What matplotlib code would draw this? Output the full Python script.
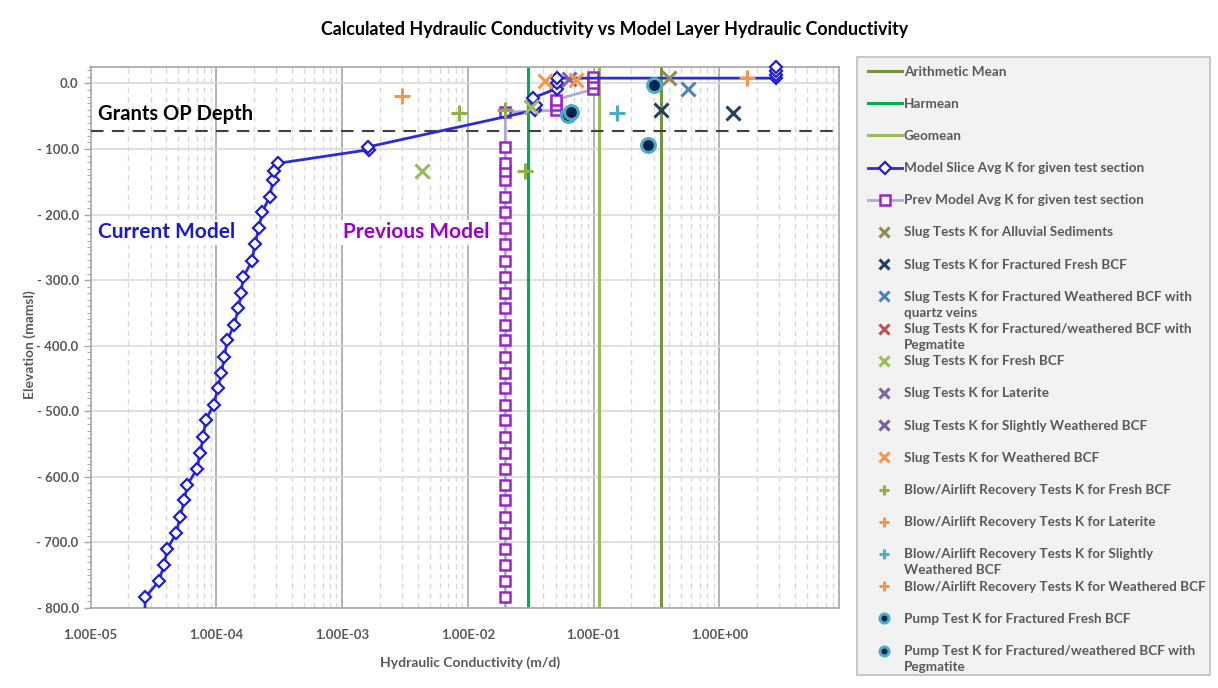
import matplotlib
matplotlib.use("Agg")
import matplotlib.pyplot as plt
from matplotlib.lines import Line2D
from matplotlib.patches import Rectangle
from matplotlib.transforms import Affine2D
from matplotlib.ticker import FixedLocator, FuncFormatter, LogLocator, MultipleLocator

plt.rcParams['font.family'] = ['Lato', 'DejaVu Sans']

W, H = 1218, 688

# ---- data -------------------------------------------------------------
# Current model: layer-averaged K (m/d) against elevation (mamsl)
cur_elev = [-808, -783.5, -759, -734, -710, -685.5, -661, -636, -612, -588,
            -563, -539, -514, -490, -465, -441.5, -417, -392, -368, -343,
            -319, -295, -271, -245, -221, -196, -172.5, -148, -133, -122,
            -101, -97, -41, -33, -22, -8, 0, 8, 8, 13.5, 19, 24.5]
cur_k = [2.7e-5, 2.73e-5, 3.5e-5, 3.85e-5, 4.08e-5, 4.82e-5, 5.15e-5, 5.57e-5, 5.89e-5, 7.03e-5,
         7.46e-5, 7.88e-5, 8.23e-5, 9.53e-5, 1.03e-4, 1.10e-4, 1.16e-4, 1.22e-4, 1.39e-4, 1.50e-4,
         1.58e-4, 1.64e-4, 1.92e-4, 2.03e-4, 2.18e-4, 2.32e-4, 2.67e-4, 2.82e-4, 2.90e-4, 3.07e-4,
         1.65e-3, 1.60e-3, 0.034, 0.035, 0.033, 0.051, 0.051, 0.051, 2.8, 2.8, 2.8, 2.8]

# Previous model: layer-averaged K (m/d) against elevation (mamsl)
prev_elev = [-808, -783.5, -759, -734, -710, -685.5, -661, -636, -612, -588,
             -563, -539, -514, -490, -465, -441.5, -417, -392, -368, -343,
             -319, -295, -271, -245, -221, -196, -172.5, -148, -133, -122,
             -97, -44, -41, -33, -25, -9, 0, 10]
prev_k = [0.0199] * 31 + [0.0199, 0.050, 0.050, 0.050, 0.099, 0.099, 0.099]

# Statistics of the field tests (m/d)
arith_mean = 0.343
harmean = 0.030
geomean = 0.110

# Field tests: K (m/d) and test elevation (mamsl)
slug_alluvial_k, slug_alluvial_z = [0.40], [8]
slug_frac_fresh_k, slug_frac_fresh_z = [0.344, 1.28], [-41, -44.7]
slug_frac_qv_k, slug_frac_qv_z = [0.56], [-9]
slug_frac_peg_k, slug_frac_peg_z = [], []
slug_fresh_k, slug_fresh_z = [0.032, 4.29e-3], [-36, -133.6]
slug_laterite_k, slug_laterite_z = [0.064], [7]
slug_slight_k, slug_slight_z = [], []
slug_weath_k, slug_weath_z = [0.0408, 0.073], [3.5, 4.6]
blow_fresh_k, blow_fresh_z = [8.53e-3, 0.0199, 0.0283], [-44.7, -41, -133.6]
blow_laterite_k, blow_laterite_z = [2.98e-3], [-19.8]
blow_slight_k, blow_slight_z = [0.153], [-45]
blow_weath_k, blow_weath_z = [1.65], [8]
pump_fresh_k, pump_fresh_z = [0.063, 0.305, 0.27], [-48, -2, -93.5]
pump_peg_k, pump_peg_z = [0.066], [-44]

grants_op_depth = -72

x_ticks = [1e-5, 1e-4, 1e-3, 1e-2, 1e-1, 1e0]
y_ticks = [0, -100, -200, -300, -400, -500, -600, -700, -800]

# ---- styles -----------------------------------------------------------
TXT = '#595959'
C_ARITH, C_HAR, C_GEO = '#77933c', '#00b050', '#9bbb59'

def xs(color):
    return dict(marker='x', color=color, markersize=10, markeredgewidth=2.2, linestyle='none')

def ps(color):
    return dict(marker='+', color=color, markersize=11, markeredgewidth=2.2, linestyle='none')

pump_style = dict(marker='o', markerfacecolor='#0a1f4d', markeredgecolor='#4bacc6',
                  markeredgewidth=2.2, markersize=10, linestyle='none')

series = [
    ('Slug Tests K for Alluvial Sediments', slug_alluvial_k, slug_alluvial_z, xs('#948a54')),
    ('Slug Tests K for Fractured Fresh BCF', slug_frac_fresh_k, slug_frac_fresh_z, xs('#254061')),
    ('Slug Tests K for Fractured Weathered BCF with\nquartz veins', slug_frac_qv_k, slug_frac_qv_z, xs('#4f81bd')),
    ('Slug Tests K for Fractured/weathered BCF with\nPegmatite', slug_frac_peg_k, slug_frac_peg_z, xs('#c0504d')),
    ('Slug Tests K for Fresh BCF', slug_fresh_k, slug_fresh_z, xs('#9bbb59')),
    ('Slug Tests K for Laterite', slug_laterite_k, slug_laterite_z, xs('#8064a2')),
    ('Slug Tests K for Slightly Weathered BCF', slug_slight_k, slug_slight_z, xs('#7a5ea3')),
    ('Slug Tests K for Weathered BCF', slug_weath_k, slug_weath_z, xs('#f79646')),
    ('Blow/Airlift Recovery Tests K for Fresh BCF', blow_fresh_k, blow_fresh_z, ps('#8db04a')),
    ('Blow/Airlift Recovery Tests K for Laterite', blow_laterite_k, blow_laterite_z, ps('#f79646')),
    ('Blow/Airlift Recovery Tests K for Slightly\nWeathered BCF', blow_slight_k, blow_slight_z, ps('#4bacc6')),
    ('Blow/Airlift Recovery Tests K for Weathered BCF', blow_weath_k, blow_weath_z, ps('#f79646')),
    ('Pump Test K for Fractured Fresh BCF', pump_fresh_k, pump_fresh_z, pump_style),
    ('Pump Test K for Fractured/weathered BCF with\nPegmatite', pump_peg_k, pump_peg_z, pump_style),
]

cur_style = dict(color='#2b2bd9', linewidth=2, marker='D', markersize=6,
                 markerfacecolor='white', markeredgecolor='#1f1fd0', markeredgewidth=1.6)
prev_style = dict(color='#b4a7d6', linewidth=2, marker='s', markersize=7.2,
                  markerfacecolor='white', markeredgecolor='#a020d0', markeredgewidth=1.8)

# ---- figure -----------------------------------------------------------
fig = plt.figure(figsize=(W / 100, H / 100), dpi=100)
fig.patch.set_facecolor('white')

px = Affine2D().scale(1 / W, -1 / H).translate(0, 1) + fig.transFigure

L, R, T, B = 90.5, 839, 67, 608
ax = fig.add_axes([L / W, 1 - B / H, (R - L) / W, (B - T) / H])
ax.set_xscale('log')
ax.set_xlim(1e-5, 10 ** (0.952))
ax.set_ylim(-800, 25)

ax.xaxis.set_major_locator(FixedLocator(x_ticks))
ax.xaxis.set_minor_locator(LogLocator(base=10, subs=range(2, 10), numticks=20))
ax.xaxis.set_major_formatter(FuncFormatter(lambda v, p: f"{v:.2E}"))
ax.xaxis.set_minor_formatter(FuncFormatter(lambda v, p: ''))
ax.yaxis.set_major_locator(FixedLocator(y_ticks))
ax.yaxis.set_minor_locator(MultipleLocator(10))
ax.yaxis.set_major_formatter(FuncFormatter(lambda v, p: f"- {abs(v):.1f}" if v < 0 else f"{abs(v):.1f}"))

ax.grid(True, which='major', axis='x', color='#a6a6a6', linewidth=1.2)
ax.grid(True, which='minor', axis='x', color='#d9d9d9', linewidth=1, linestyle=(0, (4, 3)))
ax.grid(True, which='major', axis='y', color='#d9d9d9', linewidth=1.2)
ax.set_axisbelow(True)

for s in ax.spines.values():
    s.set_color('#a6a6a6')
    s.set_linewidth(1.2)
ax.tick_params(axis='both', which='both', colors='#a6a6a6', labelcolor=TXT)
ax.tick_params(axis='x', which='both', length=0, pad=15)
ax.tick_params(axis='y', which='major', length=5, width=1)
ax.tick_params(axis='y', which='minor', length=3, width=0.8)
for lab in ax.get_xticklabels() + ax.get_yticklabels():
    lab.set_fontweight('bold')
    lab.set_fontsize(9.5)

# mean lines
ax.axvline(harmean, color=C_HAR, linewidth=2.2, zorder=2)
ax.axvline(geomean, color=C_GEO, linewidth=2.2, zorder=2)
ax.axvline(arith_mean, color=C_ARITH, linewidth=2.2, zorder=2)

# open-pit depth
ax.axhline(grants_op_depth, color='#404040', linewidth=1.5, linestyle=(0, (6, 4)), zorder=3)

# model profiles: lines clipped to the plot, markers kept where they lie in range
ax.plot(prev_k, prev_elev, color=prev_style['color'], linewidth=2, zorder=4)
pk = [k for k, z in zip(prev_k, prev_elev) if z >= -800]
pz = [z for z in prev_elev if z >= -800]
ax.plot(pk, pz, linestyle='none', marker='s', markersize=prev_style['markersize'],
        markerfacecolor='white', markeredgecolor='#a020d0', markeredgewidth=1.8,
        zorder=5, clip_on=False)

ax.plot(cur_k, cur_elev, color=cur_style['color'], linewidth=2, zorder=6)
ck = [k for k, z in zip(cur_k, cur_elev) if z >= -800]
cz = [z for z in cur_elev if z >= -800]
ax.plot(ck, cz, linestyle='none', marker='D', markersize=cur_style['markersize'],
        markerfacecolor='white', markeredgecolor='#1f1fd0', markeredgewidth=1.6,
        zorder=7, clip_on=False)

# field tests
for label, k, z, st in series:
    if k:
        ax.plot(k, z, zorder=8, **st)

# annotations
ax.text(1.15e-5, -46, 'Grants OP Depth', fontsize=14.5, fontweight='bold', color='black',
        va='center', ha='left', zorder=9)
ax.text(1.15e-5, -227, 'Current Model', fontsize=15, fontweight='bold', color='#1a1acc',
        va='center', ha='left', zorder=9,
        bbox=dict(facecolor='white', edgecolor='none', pad=2))
ax.text(1.02e-3, -227, 'Previous Model', fontsize=15, fontweight='bold', color='#9900cc',
        va='center', ha='left', zorder=9,
        bbox=dict(facecolor='white', edgecolor='none', pad=2))

# titles
fig.text(615 / W, 1 - 29 / H, 'Calculated Hydraulic Conductivity vs Model Layer Hydraulic Conductivity',
         ha='center', va='center', fontsize=12.9, fontweight='bold', color='black')
fig.text(470 / W, 1 - 663 / H, 'Hydraulic Conductivity (m/d)', ha='center', va='center',
         fontsize=10, fontweight='bold', color=TXT)
fig.text(30 / W, 1 - 345 / H, 'Elevation (mamsl)', ha='center', va='center', rotation=90,
         fontsize=10, fontweight='bold', color=TXT)

# ---- legend panel -----------------------------------------------------
fig.add_artist(Rectangle((857, 57), 353, 618, transform=px, facecolor='#f2f2f2',
                         edgecolor='#bfbfbf', linewidth=1.2, zorder=1))

entries = [
    ('Arithmetic Mean', dict(color=C_ARITH, linewidth=2.2), 'line'),
    ('Harmean', dict(color=C_HAR, linewidth=2.2), 'line'),
    ('Geomean', dict(color=C_GEO, linewidth=2.2), 'line'),
    ('Model Slice Avg K for given test section', cur_style, 'line'),
    ('Prev Model Avg K for given test section', prev_style, 'line'),
] + [(lab, st, 'point') for lab, _, _, st in series]

y0, dy = 71, 32.2
for i, (lab, st, kind) in enumerate(entries):
    y = y0 + i * dy
    if kind == 'line':
        fig.add_artist(Line2D([868, 902], [y, y], transform=px, color=st['color'],
                              linewidth=st['linewidth'], zorder=2))
        if 'marker' in st:
            m = dict(st)
            m.pop('color'); m.pop('linewidth')
            fig.add_artist(Line2D([885], [y], transform=px, linestyle='none', zorder=3, **m))
    else:
        m = dict(st)
        m['markersize'] = m['markersize'] * 0.65
        fig.add_artist(Line2D([884], [y], transform=px, zorder=3, **m))
    fig.text(904 / W, 1 - (y - 5.5) / H, lab, ha='left', va='top', fontsize=9.7,
             color=TXT, fontweight='bold', linespacing=1.4, zorder=3)

fig.savefig('out.png', dpi=100, facecolor='white')
